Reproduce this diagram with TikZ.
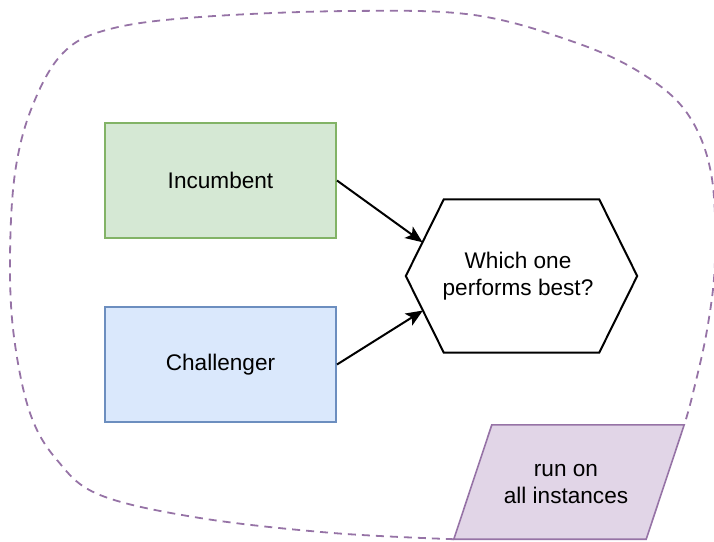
\documentclass[tikz,border=0pt]{standalone}
\usepackage{fontspec}
\setmainfont{Liberation Sans}
\usetikzlibrary{arrows.meta,calc}
\definecolor{gfill}{HTML}{D5E8D4}
\definecolor{gline}{HTML}{82B366}
\definecolor{bfill}{HTML}{DAE8FC}
\definecolor{bline}{HTML}{6C8EBF}
\definecolor{pfill}{HTML}{E1D5E7}
\definecolor{pline}{HTML}{9673A6}
\tikzset{
  box/.style={draw, line width=2pt, minimum width=231pt, minimum height=115pt, inner sep=0pt, align=center},
  lbl/.style={inner sep=0pt, align=center},
  arr/.style={line width=2pt, -{Stealth[length=17pt,width=14pt,inset=4pt]}},
  cloud/.style={pline, line width=1.8pt, dash pattern=on 8pt off 6pt},
  txt/.style={font=\fontsize{22.6pt}{27pt}\selectfont}
}
\begin{document}
\begin{tikzpicture}[x=1pt,y=-1pt,every node/.style={txt}]
\useasboundingbox (0,0) rectangle (714,541);
% boxes
\node[box, fill=gfill, draw=gline] (inc) at (220.5,180.5) {Incumbent};
\node[box, fill=bfill, draw=bline] (cha) at (220.5,364.5) {Challenger};
% hexagon
\node[lbl, minimum width=231pt, minimum height=153pt] (hex) at (521.5,276) {};
\coordinate (htl) at ($(hex.north west)+(38,0)$);
\coordinate (htr) at ($(hex.north east)+(-38,0)$);
\coordinate (hbl) at ($(hex.south west)+(38,0)$);
\coordinate (hbr) at ($(hex.south east)+(-38,0)$);
\draw[line width=2pt, line join=miter] (hex.west) -- (htl) -- (htr) -- (hex.east) -- (hbr) -- (hbl) -- cycle;
\node[lbl] (hext) at (518,276) {Which one\\performs best?};
% parallelogram
\node[lbl, minimum width=230pt, minimum height=114pt] (par) at (569,482) {};
\coordinate (pbl) at (par.south west);
\coordinate (ptr) at (par.north east);
\coordinate (ptl) at ($(par.north west)+(38,0)$);
\coordinate (pbr) at ($(par.south east)+(-38,0)$);
\draw[pline, fill=pfill, line width=1.6pt] (pbl) -- (ptl) -- (ptr) -- (pbr) -- cycle;
\node[lbl] (part) at (566,484) {run on\\all instances};
% cloud
\draw[cloud] plot[smooth, tension=0.6] coordinates {
  (pbl) (333,533) (200,518) (100,495) (57,460) (30,413) (14,337) (10,260) (15,173)
  (32,107) (63,53) (110,29) (200,17) (350,11) (474,15) (574,42) (641,73) (687,113)
  (711,173) (715,260) (707,330) (692,397) (ptr)};
% arrows
\coordinate (a1) at ($(hex.west)!0.44!(htl)$);
\coordinate (a2) at ($(hex.west)!0.45!(hbl)$);
\draw[arr] (inc.east) -- (a1);
\draw[arr] (cha.east) -- (a2);
\end{tikzpicture}
\end{document}
